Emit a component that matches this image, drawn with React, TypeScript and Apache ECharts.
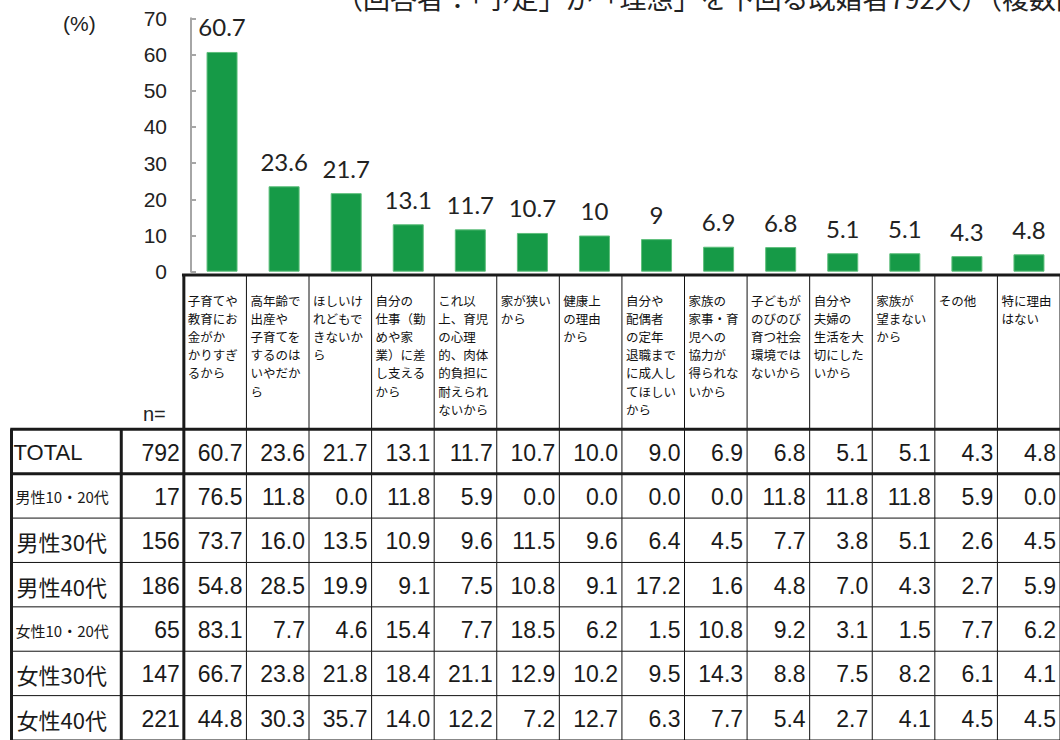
import React, { useEffect, useRef } from "react";
import * as echarts from "echarts";

// ---- data ----
const titleText = "（回答者：「予定」が「理想」を下回る既婚者792人）（複数回答）";
const unitLabel = "(%)";
const nLabel = "n=";

const categories = [
  "子育てや\n教育にお\n金がか\nかりすぎ\nるから",
  "高年齢で\n出産や\n子育てを\nするのは\nいやだか\nら",
  "ほしいけ\nれどもで\nきないか\nら",
  "自分の\n仕事（勤\nめや家\n業）に差\nし支える\nから",
  "これ以\n上、育児\nの心理\n的、肉体\n的負担に\n耐えられ\nないから",
  "家が狭い\nから",
  "健康上\nの理由\nから",
  "自分や\n配偶者\nの定年\n退職まで\nに成人し\nてほしい\nから",
  "家族の\n家事・育\n児への\n協力が\n得られな\nいから",
  "子どもが\nのびのび\n育つ社会\n環境では\nないから",
  "自分や\n夫婦の\n生活を大\n切にした\nいから",
  "家族が\n望まない\nから",
  "その他",
  "特に理由\nはない",
];

const totalValues = [60.7, 23.6, 21.7, 13.1, 11.7, 10.7, 10, 9, 6.9, 6.8, 5.1, 5.1, 4.3, 4.8];

const rowLabels = ["TOTAL", "男性10・20代", "男性30代", "男性40代", "女性10・20代", "女性30代", "女性40代"];
const rowN = [792, 17, 156, 186, 65, 147, 221];
const rowMale1020 = [76.5, 11.8, 0.0, 11.8, 5.9, 0.0, 0.0, 0.0, 0.0, 11.8, 11.8, 11.8, 5.9, 0.0];
const rowMale30 = [73.7, 16.0, 13.5, 10.9, 9.6, 11.5, 9.6, 6.4, 4.5, 7.7, 3.8, 5.1, 2.6, 4.5];
const rowMale40 = [54.8, 28.5, 19.9, 9.1, 7.5, 10.8, 9.1, 17.2, 1.6, 4.8, 7.0, 4.3, 2.7, 5.9];
const rowFemale1020 = [83.1, 7.7, 4.6, 15.4, 7.7, 18.5, 6.2, 1.5, 10.8, 9.2, 3.1, 1.5, 7.7, 6.2];
const rowFemale30 = [66.7, 23.8, 21.8, 18.4, 21.1, 12.9, 10.2, 9.5, 14.3, 8.8, 7.5, 8.2, 6.1, 4.1];
const rowFemale40 = [44.8, 30.3, 35.7, 14.0, 12.2, 7.2, 12.7, 6.3, 7.7, 5.4, 2.7, 4.1, 4.5, 4.5];
const tableRows = [totalValues, rowMale1020, rowMale30, rowMale40, rowFemale1020, rowFemale30, rowFemale40];

const yMin = 0;
const yMax = 70;
const yInterval = 10;

// ---- layout constants ----
const COL_W = 63;
const ROW_H = 44.67;
const LABEL_UNITS = 1.754; // width of row-label column, in data-column units
const N_UNITS = 1; // n= column
const HEADER_UNITS = 3.477; // header height, in row units

const TEXT = "#1a1a1a";
const JP = "'Noto Sans CJK JP', 'Noto Sans', sans-serif";
const LAT = "'Liberation Sans', Arial, sans-serif";

export default function App() {
  const ref = useRef<HTMLDivElement>(null);

  useEffect(() => {
    if (!ref.current) return;
    const chart = echarts.init(ref.current, undefined, { renderer: "svg" });
    const nCols = categories.length;
    const nRows = rowLabels.length;
    const leftUnits = LABEL_UNITS + N_UNITS;

    const headerData = categories.map((_, i) => [i, -HEADER_UNITS]);
    const cellData: number[][] = [];
    tableRows.forEach((row, r) => row.forEach((_, c) => cellData.push([c, r])));
    const rowData = rowLabels.map((_, r) => [-leftUnits, r]);

    const option: any = {
      animation: false,
      backgroundColor: "#ffffff",
      grid: [
        { left: 191, top: 18.3, width: 62.4 * nCols, height: 253.4 },
        {
          left: 11.5,
          top: 275,
          width: (nCols + leftUnits) * COL_W,
          height: (nRows + HEADER_UNITS) * ROW_H,
        },
      ],
      xAxis: [
        {
          type: "category",
          gridIndex: 0,
          data: categories,
          axisLine: { show: false },
          axisTick: { show: false },
          axisLabel: { show: false },
        },
        { type: "value", gridIndex: 1, min: -leftUnits, max: nCols, show: false },
      ],
      yAxis: [
        {
          type: "value",
          gridIndex: 0,
          min: yMin,
          max: yMax,
          interval: yInterval,
          axisLine: { show: true, lineStyle: { color: "#a6a6a6", width: 2 } },
          axisTick: { show: true, inside: true, length: 5, lineStyle: { color: "#a6a6a6", width: 2 } },
          splitLine: { show: false },
          axisLabel: { fontSize: 21, color: "#222", margin: 24, fontFamily: LAT },
        },
        { type: "value", gridIndex: 1, min: -HEADER_UNITS, max: nRows, inverse: true, show: false },
      ],
      series: [
        {
          type: "bar",
          xAxisIndex: 0,
          yAxisIndex: 0,
          data: totalValues,
          barWidth: 31,
          itemStyle: { color: "#169a47", borderColor: "#5fbf7c", borderWidth: 1 },
          label: {
            show: true,
            position: "top",
            distance: 13,
            fontSize: 24,
            color: "#222",
            fontFamily: "Lato, 'Open Sans', sans-serif",
          },
        },
        {
          type: "custom",
          xAxisIndex: 1,
          yAxisIndex: 1,
          data: headerData,
          encode: { x: 0, y: 1 },
          silent: true,
          renderItem: (params: any, api: any) => {
            const i = params.dataIndex;
            const p0 = api.coord([i, -HEADER_UNITS]);
            const p1 = api.coord([i + 1, 0]);
            return {
              type: "group",
              children: [
                {
                  type: "line",
                  shape: { x1: p1[0], y1: p0[1], x2: p1[0], y2: p1[1] },
                  style: { stroke: "#111", lineWidth: 1 },
                },
                {
                  type: "text",
                  x: p0[0] + 4,
                  y: p0[1] + 16,
                  style: {
                    text: categories[i],
                    fontSize: 12.5,
                    lineHeight: 18.2,
                    fontFamily: JP,
                    fill: "#111",
                    align: "left",
                    verticalAlign: "top",
                  },
                },
              ],
            };
          },
        },
        {
          type: "custom",
          xAxisIndex: 1,
          yAxisIndex: 1,
          data: cellData,
          encode: { x: 0, y: 1 },
          silent: true,
          renderItem: (params: any, api: any) => {
            const c = api.value(0);
            const r = api.value(1);
            const p0 = api.coord([c, r]);
            const p1 = api.coord([c + 1, r + 1]);
            return {
              type: "group",
              children: [
                {
                  type: "line",
                  shape: { x1: p1[0], y1: p0[1], x2: p1[0], y2: p1[1] },
                  style: { stroke: "#111", lineWidth: 1 },
                },
                {
                  type: "line",
                  shape: { x1: p0[0], y1: p1[1], x2: p1[0], y2: p1[1] },
                  style: { stroke: "#111", lineWidth: 1 },
                },
                {
                  type: "text",
                  x: p1[0] - 4,
                  y: (p0[1] + p1[1]) / 2 + 1,
                  style: {
                    text: tableRows[r][c].toFixed(1),
                    fontSize: 23,
                    fontFamily: LAT,
                    fill: TEXT,
                    align: "right",
                    verticalAlign: "middle",
                  },
                },
              ],
            };
          },
        },
        {
          type: "custom",
          xAxisIndex: 1,
          yAxisIndex: 1,
          data: rowData,
          encode: { x: 0, y: 1 },
          silent: true,
          renderItem: (params: any, api: any) => {
            const r = params.dataIndex;
            const p0 = api.coord([-leftUnits, r]);
            const p1 = api.coord([0, r + 1]);
            const label = rowLabels[r];
            const isLatin = /^[A-Z]+$/.test(label);
            const small = label.length > 5;
            return {
              type: "group",
              children: [
                {
                  type: "line",
                  shape: { x1: p0[0], y1: p1[1], x2: p1[0], y2: p1[1] },
                  style: { stroke: "#111", lineWidth: 1 },
                },
                {
                  type: "text",
                  x: p0[0] + (isLatin ? 2 : small ? 4 : 5),
                  y: (p0[1] + p1[1]) / 2 + 1,
                  style: {
                    text: label,
                    fontSize: isLatin ? 22 : small ? 15 : 22,
                    fontFamily: isLatin ? LAT : JP,
                    fill: TEXT,
                    align: "left",
                    verticalAlign: "middle",
                  },
                },
                {
                  type: "text",
                  x: p1[0] - 4,
                  y: (p0[1] + p1[1]) / 2 + 1,
                  style: {
                    text: String(rowN[r]),
                    fontSize: 23,
                    fontFamily: LAT,
                    fill: TEXT,
                    align: "right",
                    verticalAlign: "middle",
                  },
                },
              ],
            };
          },
        },
        {
          type: "custom",
          xAxisIndex: 1,
          yAxisIndex: 1,
          data: [[0, 0]],
          encode: { x: 0, y: 1 },
          silent: true,
          renderItem: (params: any, api: any) => {
            const seg = (x1: number, y1: number, x2: number, y2: number) => {
              const a = api.coord([x1, y1]);
              const b = api.coord([x2, y2]);
              return {
                type: "line",
                shape: { x1: a[0], y1: a[1], x2: b[0], y2: b[1] },
                style: { stroke: "#1a1a1a", lineWidth: 3 },
              };
            };
            return {
              type: "group",
              children: [
                seg(-0.03, -HEADER_UNITS, nCols, -HEADER_UNITS),
                seg(0, -HEADER_UNITS, 0, nRows),
                seg(-leftUnits, 0, -leftUnits, nRows),
                seg(-N_UNITS, 0, -N_UNITS, nRows),
                seg(-leftUnits - 0.02, 0, nCols, 0),
                seg(-leftUnits - 0.02, 1, nCols, 1),
              ],
            };
          },
        },
      ],
      graphic: [
        {
          type: "text",
          x: 336,
          y: -3,
          style: {
            text: titleText,
            fontSize: 27,
            fontFamily: JP,
            fill: "#222",
            align: "left",
            verticalAlign: "middle",
          },
        },
        {
          type: "text",
          x: 63,
          y: 23,
          style: { text: unitLabel, fontSize: 21, fontFamily: LAT, fill: "#222", verticalAlign: "middle" },
        },
        {
          type: "text",
          x: 143,
          y: 414,
          style: { text: nLabel, fontSize: 20, fontFamily: LAT, fill: "#222", verticalAlign: "middle" },
        },
      ],
    };

    chart.setOption(option);
    return () => chart.dispose();
  }, []);

  return (
    <div
      ref={ref}
      style={{ position: "fixed", left: 0, top: 0, width: 1060, height: 740, background: "#fff" }}
    />
  );
}
